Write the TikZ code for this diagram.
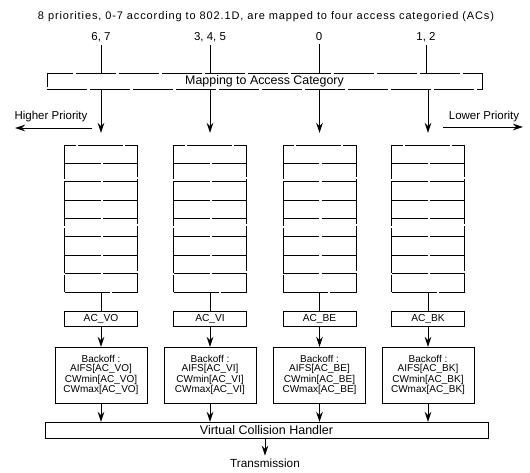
\documentclass[tikz,border=0pt]{standalone}
\usepackage{fontspec}
\setmainfont{Liberation Sans}
\newfontfamily\spacedfont[LetterSpace=8]{Liberation Sans}
\usetikzlibrary{arrows.meta}
\begin{document}
\begin{tikzpicture}[x=1pt,y=-1pt,
  every node/.style={inner sep=0pt,outer sep=0pt},
  txt/.style={font=\fontsize{11.5}{12}\selectfont},
  dbox/.style={draw,line width=0.9pt,dash pattern=on 40pt off 3pt},
  qbox/.style={draw,line width=0.9pt,minimum width=73pt,minimum height=147pt,dash pattern=on 45pt off 2pt},
  acbox/.style={draw,line width=1pt,minimum width=73pt,minimum height=15pt,font=\fontsize{10.2}{11}\selectfont},
  bobox/.style={draw,line width=1pt,minimum width=92pt,minimum height=56pt,align=center,font=\fontsize{10}{9.3}\selectfont},
  arr/.style={line width=1pt,-{Stealth[length=10pt,width=6.5pt]}},
  ln/.style={line width=1pt}
]
\useasboundingbox (0,0) rectangle (530,472);

\node[font=\spacedfont\fontsize{11}{12}\selectfont] (title) at (266,17) {8 priorities, 0-7 according to 802.1D, are mapped to four access categoried (ACs)};

\node[txt,anchor=base] (n1) at (101,40) {6, 7};
\node[txt,anchor=base] (n2) at (210,40) {3, 4, 5};
\node[txt,anchor=base] (n3) at (319,40) {0};
\node[txt,anchor=base] (n4) at (426,40) {1, 2};

\node[dbox,minimum width=435pt,minimum height=16pt,font=\fontsize{12.4}{13}\selectfont] (map) at (264.5,81) {Mapping to Access Category};

\foreach \i in {1,...,4}{
  \draw[ln] ([yshift=-4pt]n\i.south) -- (n\i.south |- map.north);
}

\node[txt] (hp) at (51,117) {Higher Priority};
\node[txt] (lp) at (484,117) {Lower Priority};
\coordinate (hpa) at (92,128);
\coordinate (hpb) at (15,128);
\coordinate (lpa) at (443,127);
\coordinate (lpb) at (523,127);
\draw[arr] (hpa) -- (hpb);
\draw[arr] (lpa) -- (lpb);

% queues
\foreach \i/\x/\ac in {1/101/VO,2/210/VI,3/319.5/BE,4/428/BK}{
  \node[qbox] (q\i) at (\x,218.5) {};
  \foreach \k in {1,...,7}{
    \draw[line width=0.9pt,dash pattern=on 36pt off 2.5pt] ([yshift=-\k*18.375pt]q\i.north west) -- ([yshift=-\k*18.375pt]q\i.north east);
  }
  \draw[arr,shorten >=12pt] (q\i.north |- map.south) -- (q\i.north);
  \node[acbox] (ac\i) at (\x,318.5) {AC\_\ac};
  \draw[ln] (q\i.south) -- (ac\i.north);
  \node[bobox] (bo\i) at (\x,375) {Backoff :\\AIFS[AC\_\ac]\\CWmin[AC\_\ac]\\CWmax[AC\_\ac]};
  \draw[arr] (ac\i.south) -- (bo\i.north);
}

\node[draw,line width=1pt,minimum width=443pt,minimum height=16pt,font=\fontsize{12.5}{13}\selectfont] (vch) at (266.5,430) {Virtual Collision Handler};
\foreach \i in {1,...,4}{
  \draw[arr] (bo\i.south) -- (bo\i.south |- vch.north);
}
\node[font=\fontsize{11.8}{12}\selectfont] (tx) at (265,463) {Transmission};
\draw[arr,shorten >=3pt] (vch.south -| tx.north) -- (tx.north);
\end{tikzpicture}
\end{document}
